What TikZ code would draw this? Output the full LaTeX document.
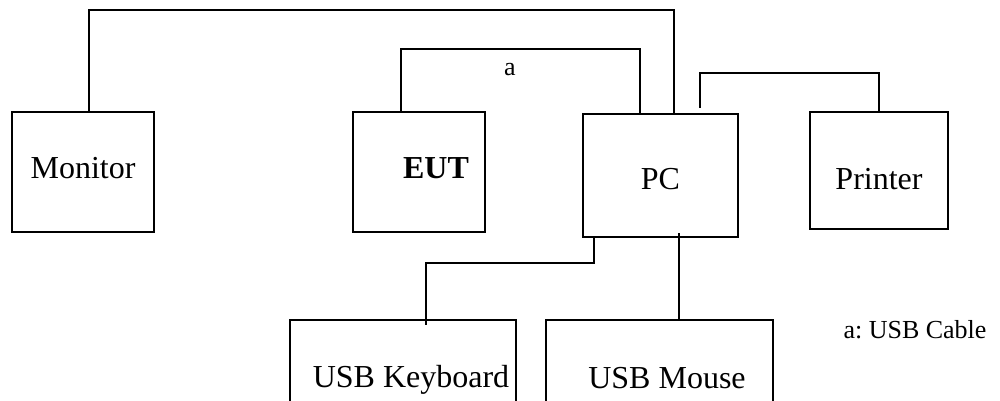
\documentclass[tikz,border=0pt]{standalone}
\usepackage{fontspec}
\setmainfont{Liberation Serif}
\usetikzlibrary{positioning}

\tikzset{
  unit/.style={draw, line width=1pt, inner sep=0pt},
  cable/.style={line width=1pt},
  every label/.style={font=\fontsize{16}{19}\selectfont, inner sep=0pt},
  note/.style={font=\fontsize{13}{16}\selectfont, inner sep=0pt}
}

\begin{document}
\begin{tikzpicture}[x=0.5pt,y=-0.5pt]
    \useasboundingbox (0,0) rectangle (1000,401);
    \node[unit, minimum width=71pt, minimum height=60pt, label={[yshift=2pt]center:Monitor}] (monitor) at (83,172) {};
    \node[unit, minimum width=66pt, minimum height=60pt, label={[xshift=8.5pt,yshift=1.75pt]center:\textbf{EUT}}] (eut) at (419,172) {};
    \node[unit, minimum width=77.5pt, minimum height=61.5pt, label={[yshift=-2pt]center:PC}] (pc) at (660.5,175.5) {};
    \node[unit, minimum width=69pt, minimum height=58.5pt, label={[yshift=-4.5pt]center:Printer}] (printer) at (879,170.5) {};
    \node[unit, minimum width=113pt, minimum height=60pt, label={[xshift=4pt,yshift=0pt]center:USB Keyboard}] (kbd) at (403,380) {};
    \node[unit, minimum width=113.5pt, minimum height=60pt, label={[xshift=3.75pt,yshift=1pt]center:USB Mouse}] (mouse) at (659.5,380) {};
    \node[note] (cablea) at (510,70) {a};
    \node[note] (legend) at (915,330) {a:\ USB Cable};
    \coordinate (pcport) at ([xshift=19.75pt,yshift=2.5pt]pc.north);
    \coordinate (pcmouse) at ([xshift=9.25pt,yshift=2.5pt]pc.south);
    \draw[cable] ([xshift=3pt]monitor.north) -- ++(0,-101) -| ([xshift=6.75pt]pc.north);
    \draw[cable] ([xshift=-9pt]eut.north) -- ++(0,-62) -| ([xshift=-10.25pt]pc.north);
    \draw[cable] (pcport) -- ++(0,-35) -| (printer.north);
    \draw[cable] ([xshift=-33.25pt]pc.south) -- ++(0,25) -| ([xshift=11.5pt,yshift=-3pt]kbd.north);
    \draw[cable] (pcmouse) -- (pcmouse |- mouse.north);
    \end{tikzpicture}
\end{document}
